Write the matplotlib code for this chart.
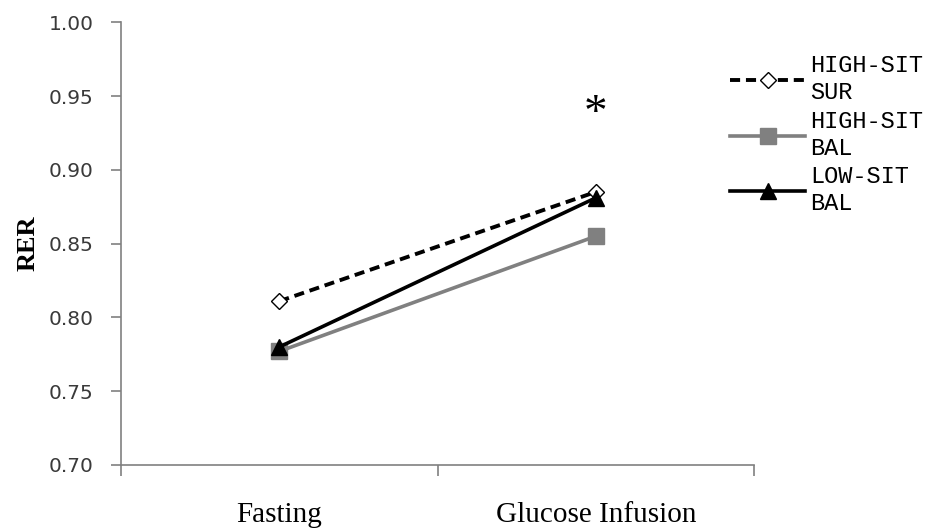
import matplotlib
matplotlib.use("Agg")
import matplotlib.pyplot as plt
import numpy as np

# Data
conditions = ["Fasting", "Glucose Infusion"]
high_sit_sur = [0.811, 0.885]
high_sit_bal = [0.777, 0.855]
low_sit_bal = [0.780, 0.881]
y_ticks = [0.70, 0.75, 0.80, 0.85, 0.90, 0.95, 1.00]

fig = plt.figure(figsize=(9.32, 5.29), dpi=100)
ax = fig.add_axes([0.130, 0.121, 0.679, 0.837])

x = np.arange(1, len(conditions) + 1)

ax.plot(x, high_sit_sur, color="black", lw=2.8, ls=(0, (2.6, 1.5)),
        marker="D", ms=8.5, mfc="white", mec="black", mew=1.0,
        label="HIGH-SIT\nSUR", zorder=3)
ax.plot(x, high_sit_bal, color="#808080", lw=2.6, marker="s", ms=12,
        mfc="#808080", mec="#808080", label="HIGH-SIT\nBAL", zorder=2)
ax.plot(x, low_sit_bal, color="black", lw=2.6, marker="^", ms=11,
        label="LOW-SIT\nBAL", zorder=4)

# significance marker
ax.text(x[1], 0.937, "*", ha="center", va="center", fontsize=34,
        family="Liberation Serif")

ax.set_xlim(0.5, 2.5)
ax.set_ylim(0.70, 1.00)
ax.set_yticks(y_ticks)
ax.set_yticklabels([f"{v:.2f}" for v in y_ticks], fontsize=14.5,
                   color="#3a3a3a", family="DejaVu Sans")
ax.set_xticks(x)
ax.set_xticklabels(conditions, fontsize=21, family="Liberation Serif")
ax.set_xticks([0.5, 1.5, 2.5], minor=True)
ax.tick_params(axis="x", which="major", length=0, pad=27)
ax.tick_params(axis="x", which="minor", length=8, color="#808080", width=1.2)
ax.tick_params(axis="y", length=7, color="#808080", width=1.2, pad=13)

for s in ["top", "right"]:
    ax.spines[s].set_visible(False)
for s in ["left", "bottom"]:
    ax.spines[s].set_color("#808080")
    ax.spines[s].set_linewidth(1.2)

ax.set_ylabel("RER", fontsize=19, fontweight="bold", family="Liberation Serif",
              labelpad=6)

leg = fig.legend(loc="upper left", bbox_to_anchor=(0.783, 0.897),
                 frameon=False, prop={"family": "Liberation Mono", "size": 17},
                 handlelength=3.2, handletextpad=0.2, labelspacing=0.25,
                 borderaxespad=0, borderpad=0)

fig.savefig("out.png", dpi=100)
